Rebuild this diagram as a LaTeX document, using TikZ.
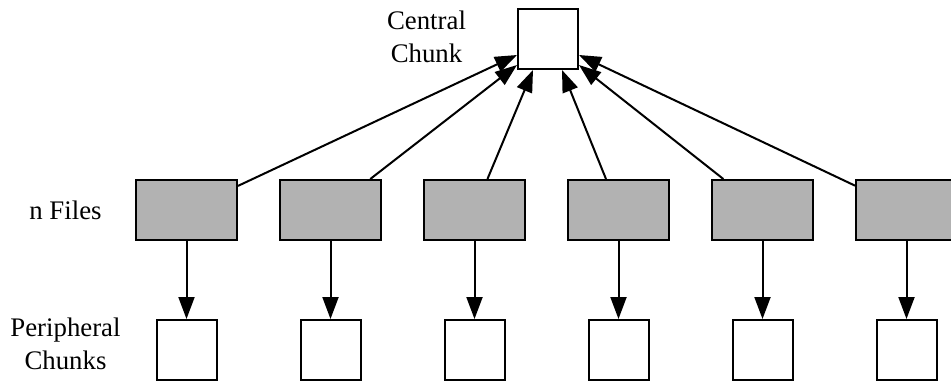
\documentclass[tikz,border=0pt]{standalone}
\usepackage{fontspec}
\setmainfont{Liberation Serif}
\usetikzlibrary{arrows.meta}
\definecolor{filegray}{RGB}{178,178,178}
\tikzset{
  chunkbox/.style={draw=black, line width=2pt, fill=white, minimum width=60pt, minimum height=60pt, inner sep=0pt},
  filebox/.style={draw=black, line width=2pt, fill=filegray, minimum width=101pt, minimum height=60pt, inner sep=0pt},
  link/.style={line width=2pt, -{Triangle[length=22pt,width=16pt]}},
  caption/.style={font=\fontsize{26.8pt}{33pt}\selectfont, align=center, inner sep=0pt}
}
\begin{document}
\begin{tikzpicture}[x=1pt, y=-1pt]
  \clip (0,0) rectangle (951,384);
  \fill[white] (0,0) rectangle (951,384);

  % central chunk and labels
  \node[chunkbox] (c) at (548,39) {};
  \node[caption] (lc) at (426.5,37) {Central\\Chunk};
  \node[caption] (lf) at (65.5,210) {n Files};
  \node[caption] (lp) at (65.5,344) {Peripheral\\Chunks};

  % arrow targets on the central chunk
  \coordinate (cL1) at ([yshift=-16pt]c.west);
  \coordinate (cL2) at ([yshift=-26pt]c.west);
  \coordinate (cB1) at ([xshift=-15pt]c.south);
  \coordinate (cB2) at ([xshift=14pt]c.south);
  \coordinate (cR1) at ([yshift=-26pt]c.east);
  \coordinate (cR2) at ([yshift=-16pt]c.east);

  % files and their peripheral chunks
  \foreach \i/\t in {1/cL1, 2/cL2, 3/cB1, 4/cB2, 5/cR1, 6/cR2} {
    \node[filebox] (f\i) at ({186.5+144*(\i-1)},210) {};
    \node[chunkbox] (p\i) at ({186.5+144*(\i-1)},350) {};
    \draw[link] (f\i) -- (p\i);
    \draw[link] (f\i) -- (\t);
  }
\end{tikzpicture}
\end{document}
